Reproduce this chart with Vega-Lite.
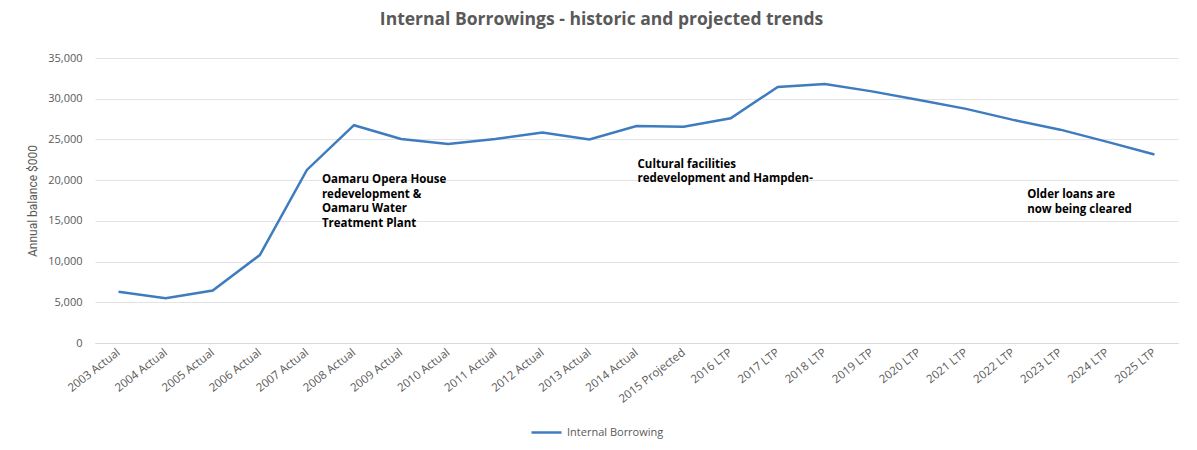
{
  "$schema": "https://vega.github.io/schema/vega-lite/v6.json",
  "autosize": {"type": "none"},
  "padding": {"left": 95, "top": 58, "right": 19, "bottom": 107},
  "width": 1083,
  "height": 285,
  "background": "white",
  "title": {
    "text": "Internal Borrowings - historic and projected trends",
    "font": "Open Sans",
    "fontSize": 17.5,
    "fontWeight": "bold",
    "color": "#595959",
    "anchor": "middle",
    "dx": -35,
    "offset": 24
  },
  "config": {
    "view": {"stroke": null},
    "font": "Open Sans"
  },
  "layer": [
    {
      "data": {
        "values": [
          {"period": "2003 Actual", "value": 6300, "series": "Internal Borrowing"},
          {"period": "2004 Actual", "value": 5500, "series": "Internal Borrowing"},
          {"period": "2005 Actual", "value": 6450, "series": "Internal Borrowing"},
          {"period": "2006 Actual", "value": 10800, "series": "Internal Borrowing"},
          {"period": "2007 Actual", "value": 21250, "series": "Internal Borrowing"},
          {"period": "2008 Actual", "value": 26750, "series": "Internal Borrowing"},
          {"period": "2009 Actual", "value": 25050, "series": "Internal Borrowing"},
          {"period": "2010 Actual", "value": 24450, "series": "Internal Borrowing"},
          {"period": "2011 Actual", "value": 25050, "series": "Internal Borrowing"},
          {"period": "2012 Actual", "value": 25850, "series": "Internal Borrowing"},
          {"period": "2013 Actual", "value": 25000, "series": "Internal Borrowing"},
          {"period": "2014 Actual", "value": 26650, "series": "Internal Borrowing"},
          {"period": "2015 Projected", "value": 26550, "series": "Internal Borrowing"},
          {"period": "2016 LTP", "value": 27600, "series": "Internal Borrowing"},
          {"period": "2017 LTP", "value": 31450, "series": "Internal Borrowing"},
          {"period": "2018 LTP", "value": 31800, "series": "Internal Borrowing"},
          {"period": "2019 LTP", "value": 30900, "series": "Internal Borrowing"},
          {"period": "2020 LTP", "value": 29850, "series": "Internal Borrowing"},
          {"period": "2021 LTP", "value": 28750, "series": "Internal Borrowing"},
          {"period": "2022 LTP", "value": 27400, "series": "Internal Borrowing"},
          {"period": "2023 LTP", "value": 26200, "series": "Internal Borrowing"},
          {"period": "2024 LTP", "value": 24700, "series": "Internal Borrowing"},
          {"period": "2025 LTP", "value": 23150, "series": "Internal Borrowing"}
        ]
      },
      "mark": {"type": "line", "strokeWidth": 2.5},
      "encoding": {
        "x": {
          "field": "period",
          "type": "ordinal",
          "sort": null,
          "scale": {"type": "point", "padding": 0.5},
          "axis": {
            "title": null,
            "labelAngle": -38,
            "labelAlign": "right",
            "labelBaseline": "middle",
            "labelFont": "Open Sans",
            "labelFontSize": 11.5,
            "labelColor": "#595959",
            "labelPadding": 8,
            "ticks": false,
            "grid": false,
            "domainColor": "#d9d9d9",
            "labelOverlap": false
          }
        },
        "y": {
          "field": "value",
          "type": "quantitative",
          "scale": {"domain": [0, 35000]},
          "axis": {
            "title": "Annual balance $000",
            "titleFont": "Roboto",
            "titleFontSize": 12,
            "titleFontWeight": "normal",
            "titleColor": "#595959",
            "titlePadding": 8,
            "values": [0, 5000, 10000, 15000, 20000, 25000, 30000, 35000],
            "format": ",.0f",
            "labelFont": "Open Sans",
            "labelFontSize": 11,
            "labelColor": "#595959",
            "labelPadding": 13,
            "ticks": false,
            "domain": false,
            "gridColor": "#e3e3e3"
          }
        },
        "color": {
          "field": "series",
          "type": "nominal",
          "scale": {"range": ["#3E7CBF"]},
          "legend": {
            "title": null,
            "orient": "none",
            "legendX": 435,
            "legendY": 358,
            "symbolType": "stroke",
            "symbolSize": 900,
            "symbolStrokeWidth": 2.5,
            "labelFont": "Open Sans",
            "labelFontSize": 11,
            "labelColor": "#595959"
          }
        }
      }
    },
    {
      "data": {"values": [{"period": "2007 Actual", "value": 20700, "note": "Oamaru Opera House\nredevelopment &\nOamaru Water\nTreatment Plant"}]},
      "mark": {"type": "text", "align": "left", "baseline": "top", "dx": 15, "lineBreak": "\n", "lineHeight": 14.5, "font": "Open Sans", "fontSize": 11.5, "fontWeight": "bold", "color": "#000000"},
      "encoding": {
        "x": {"field": "period", "type": "ordinal", "sort": null},
        "y": {"field": "value", "type": "quantitative"},
        "text": {"field": "note"}
      }
    },
    {
      "data": {"values": [{"period": "2014 Actual", "value": 22600, "note": "Cultural facilities\nredevelopment and Hampden-"}]},
      "mark": {"type": "text", "align": "left", "baseline": "top", "dx": 1, "lineBreak": "\n", "lineHeight": 14.5, "font": "Open Sans", "fontSize": 11.5, "fontWeight": "bold", "color": "#000000"},
      "encoding": {
        "x": {"field": "period", "type": "ordinal", "sort": null},
        "y": {"field": "value", "type": "quantitative"},
        "text": {"field": "note"}
      }
    },
    {
      "data": {"values": [{"period": "2022 LTP", "value": 18900, "note": "Older loans  are\nnow being cleared"}]},
      "mark": {"type": "text", "align": "left", "baseline": "top", "dx": 14, "lineBreak": "\n", "lineHeight": 14.5, "font": "Open Sans", "fontSize": 11.5, "fontWeight": "bold", "color": "#000000"},
      "encoding": {
        "x": {"field": "period", "type": "ordinal", "sort": null},
        "y": {"field": "value", "type": "quantitative"},
        "text": {"field": "note"}
      }
    }
  ]
}
